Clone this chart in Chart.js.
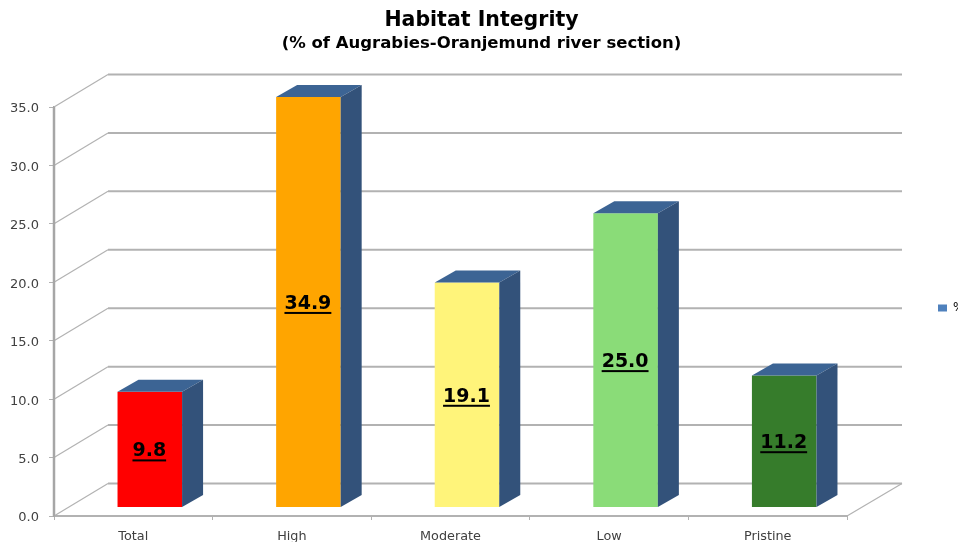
<!DOCTYPE html>
<html>
<head>
<meta charset="utf-8">
<title>Habitat Integrity</title>
<script src="https://cdn.jsdelivr.net/npm/chart.js@4"></script>
<style>
    html, body { margin: 0; padding: 0; background: #fff; overflow: hidden; }
    canvas { display: block; }
</style>
</head>
<body>
<canvas id="grafico" width="959" height="542"></canvas>
<script>
const categorias = ['Total', 'High', 'Moderate', 'Low', 'Pristine'];
const valores = [9.8, 34.9, 19.1, 25.0, 11.2];
const coresBarras = ['#ff0000', '#ffa500', '#fff47a', '#8adc78', '#367c2b'];
const ticksY = [0, 5, 10, 15, 20, 25, 30, 35];

const corGrade = '#b2b2b2';
const corTexto = '#404040';
const fonte = '"DejaVu Sans", Verdana, sans-serif';

// profundidade do "3D" da parede e das barras
const paredeDx = 54, paredeDy = 32.5;
const barraDx = 21, barraDy = 12;
const barraDesloc = 16.5;

const plugin3d = {
    id: 'plugin3d',
    afterLayout(chart) {
        // legenda fica colada na borda direita, o "%" corta como no original
        const leg = chart.legend;
        leg.left = 928; leg.right = 958;
        leg.top = 298; leg.bottom = 318;
        // titulo e subtitulo centrados na figura, nao so na area do padding
        chart.boxes.forEach((b) => {
            if (b.options && b.options.text) {
                b.left = 0;
                b.right = 963;
            }
        });
    },
    beforeDraw(chart) {
        // rotulos do eixo y um pouco mais baixos
        chart.scales.y.getLabelItems().forEach((item) => { item.textOffset = 2; });
    },
    beforeDatasetsDraw(chart) {
        const { ctx, chartArea, scales } = chart;
        const esq = chartArea.left, dir = chartArea.right;
        ctx.save();
        ctx.strokeStyle = corGrade;
        ticksY.forEach((v) => {
            const py = scales.y.getPixelForValue(v);
            ctx.lineWidth = 1.2;
            ctx.beginPath();
            ctx.moveTo(esq, py);
            ctx.lineTo(esq + paredeDx, py - paredeDy);
            ctx.stroke();
            ctx.lineWidth = 2;
            ctx.beginPath();
            ctx.moveTo(esq + paredeDx, py - paredeDy);
            ctx.lineTo(dir + paredeDx + 1, py - paredeDy);
            ctx.stroke();
        });
        // borda direita do chao
        const base = scales.y.getPixelForValue(0);
        ctx.lineWidth = 1.2;
        ctx.beginPath();
        ctx.moveTo(dir, base);
        ctx.lineTo(dir + paredeDx + 1, base - paredeDy);
        ctx.stroke();

        // eixo vertical mais grosso, como no original
        ctx.strokeStyle = '#a6a6a6';
        ctx.lineWidth = 2.5;
        ctx.beginPath();
        ctx.moveTo(esq, scales.y.getPixelForValue(35));
        ctx.lineTo(esq, base);
        ctx.stroke();
        ctx.restore();

        // barras desenhadas deslocadas para dentro do chao
        ctx.save();
        ctx.translate(barraDesloc, 0);
    },
    afterDatasetsDraw(chart) {
        const { ctx } = chart;
        chart.getDatasetMeta(0).data.forEach((bar, i) => {
            const esq = bar.x - bar.width / 2;
            const dir = bar.x + bar.width / 2;

            ctx.fillStyle = '#3c6494';
            ctx.beginPath();
            ctx.moveTo(esq, bar.y);
            ctx.lineTo(esq + barraDx, bar.y - barraDy);
            ctx.lineTo(dir + barraDx, bar.y - barraDy);
            ctx.lineTo(dir, bar.y);
            ctx.closePath();
            ctx.fill();

            ctx.fillStyle = '#33527a';
            ctx.beginPath();
            ctx.moveTo(dir, bar.y);
            ctx.lineTo(dir + barraDx, bar.y - barraDy);
            ctx.lineTo(dir + barraDx, bar.base - barraDy);
            ctx.lineTo(dir, bar.base);
            ctx.closePath();
            ctx.fill();

            // rotulo sublinhado
            const texto = valores[i].toFixed(1);
            const meio = (bar.y + bar.base) / 2 + 2;
            ctx.font = 'bold 19px ' + fonte;
            ctx.fillStyle = '#000';
            ctx.textAlign = 'center';
            ctx.textBaseline = 'middle';
            ctx.fillText(texto, bar.x - 0.5, meio);
            const larg = ctx.measureText(texto).width;
            ctx.fillRect(bar.x - 0.5 - larg / 2, meio + 8, larg, 2);
        });
        ctx.restore();
    }
};

new Chart(document.getElementById('grafico').getContext('2d'), {
    type: 'bar',
    data: {
        labels: categorias,
        datasets: [{
            label: '%',
            data: valores,
            backgroundColor: coresBarras,
            borderWidth: 0,
            yAxisID: 'yBarras',
            clip: false,
            barPercentage: 0.407,
            categoryPercentage: 1
        }]
    },
    options: {
        responsive: false,
        animation: false,
        layout: { padding: { top: 0, right: 112, bottom: 0, left: 0 } },
        plugins: {
            tooltip: { enabled: false },
            title: {
                display: true,
                text: 'Habitat Integrity',
                color: '#000',
                font: { family: fonte, size: 20.5, weight: 'bold' },
                padding: { top: 8, bottom: 0 }
            },
            subtitle: {
                display: true,
                text: '(% of Augrabies-Oranjemund river section)',
                color: '#000',
                font: { family: fonte, size: 16.5, weight: 'bold' },
                padding: { top: 1.5, bottom: 53.1 }
            },
            legend: {
                position: 'chartArea',
                labels: {
                    boxWidth: 9,
                    boxHeight: 7,
                    color: corTexto,
                    font: { family: fonte, size: 12 },
                    generateLabels: () => [{ text: '%', fillStyle: '#4f81bd', strokeStyle: '#4f81bd', lineWidth: 0, datasetIndex: 0 }]
                }
            }
        },
        scales: {
            x: {
                afterFit: (scale) => { scale.height = 26; },
                border: { color: corGrade, width: 2 },
                grid: { drawOnChartArea: false, color: corGrade, tickLength: 4 },
                ticks: {
                    color: corTexto,
                    font: { family: fonte, size: 12.8 },
                    padding: 9,
                    maxRotation: 0,
                    autoSkip: false
                }
            },
            y: {
                min: 0,
                max: 35,
                afterFit: (scale) => { scale.width = 54; },
                afterBuildTicks: (scale) => { scale.ticks = ticksY.map((v) => ({ value: v })); },
                border: { color: '#a6a6a6', width: 2 },
                grid: { drawOnChartArea: false, color: corGrade, tickLength: 5 },
                ticks: {
                    color: corTexto,
                    font: { family: fonte, size: 13 },
                    padding: 10,
                    callback: (v) => v.toFixed(1)
                }
            },
            // eixo escondido: as barras nascem um pouco acima do eixo principal
            yBarras: {
                display: false,
                min: -0.766,
                max: 34.04
            }
        }
    },
    plugins: [plugin3d]
});
</script>
</body>
</html>
